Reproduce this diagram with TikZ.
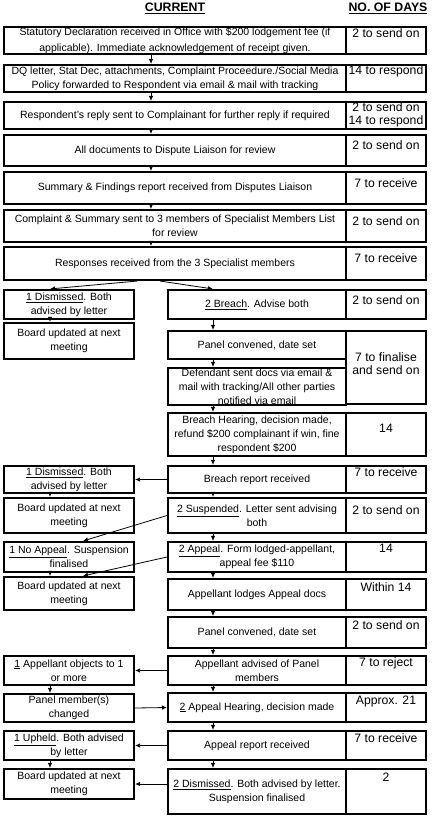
\documentclass[tikz,border=0pt]{standalone}
\usepackage{fontspec}
\setmainfont{Liberation Sans}
\usetikzlibrary{arrows.meta}
\newcommand\bodyfnt{\fontsize{10.5}{14}\selectfont}
\newcommand\widefnt{\fontsize{10.5}{16}\selectfont}
\newcommand\daysfnt{\fontsize{12.2}{12.5}\selectfont}
\newcommand\headfnt{\fontsize{12.3}{14}\selectfont\bfseries}
\begin{document}
\begin{tikzpicture}[x=1pt,y=-1pt,
  box/.style={draw, line width=2.1pt, inner sep=0pt, align=center, font=\bodyfnt},
  dbox/.style={draw, line width=2.1pt, inner sep=0pt, minimum width=80pt},
  dtext/.style={font=\daysfnt, align=center, inner sep=0pt},
  head/.style={font=\headfnt, inner sep=0pt},
  arr/.style={line width=0.8pt, -{Latex[length=5pt,width=4.5pt]}}]
\useasboundingbox (0,0) rectangle (434,820);
\fill[white] (0,0) rectangle (434,820);
% headers
\node[head] (hc) at (175,8) {\underline{CURRENT}};
\node[head] (hd) at (388,8) {\underline{NO. OF DAYS}};
% column x positions for vertical connectors
\coordinate (xm) at (151,0);
\coordinate (xr) at (213,0);
\coordinate (xl) at (50,0);
\coordinate (fl) at (137,0);
\coordinate (fr) at (160,0);
\coordinate (xs) at (83,0);
% main rows
\node[box, font=\widefnt, minimum width=342pt, minimum height=27pt] (r1) at (175,40.5) {Statutory Declaration received in Office with \$200 lodgement fee (if\\applicable). Immediate acknowledgement of receipt given.};
\node[box, minimum width=342pt, minimum height=27pt] (r2) at (175,78.5) {DQ letter, Stat Dec, attachments, Complaint Proceedure./Social Media\\Policy forwarded to Respondent via email \& mail with tracking};
\node[box, minimum width=342pt, minimum height=27pt] (r3) at (175,115.5) {Respondent's reply sent to Complainant for further reply if required};
\node[box, minimum width=342pt, minimum height=31pt] (r4) at (175,150.5) {All documents to Dispute Liaison for review};
\node[box, minimum width=342pt, minimum height=32pt] (r5) at (175,188) {Summary \& Findings report received from Disputes Liaison};
\node[box, minimum width=342pt, minimum height=32pt] (r6) at (175,226) {Complaint \& Summary sent to 3 members of Specialist Members List\\for review};
\node[box, minimum width=342pt, minimum height=33pt] (r7) at (175,263.5) {Responses received from the 3 Specialist members};
% days boxes for main rows
\node[dbox, minimum height=27pt] (d1) at (386,40.5) {};
\node[dbox, minimum height=27pt] (d2) at (386,78.5) {};
\node[dbox, minimum height=27pt] (d3) at (386,115.5) {};
\node[dbox, minimum height=31pt] (d4) at (386,150.5) {};
\node[dbox, minimum height=32pt] (d5) at (386,188) {};
\node[dbox, minimum height=32pt] (d6) at (386,226) {};
\node[dbox, minimum height=33pt] (d7) at (386,263.5) {};
% left column
\node[box, minimum width=130pt, minimum height=29pt] (l1) at (69,304.5) {\underline{1 Dismissed}. Both\\advised by letter};
\node[box, minimum width=130pt, minimum height=36pt] (l2) at (69,341) {Board updated at next\\meeting};
\node[box, minimum width=130pt, minimum height=27pt] (l3) at (69,479.5) {\underline{1 Dismissed}. Both\\advised by letter};
\node[box, minimum width=130pt, minimum height=35pt] (l4) at (69,515.5) {Board updated at next\\meeting};
\node[box, minimum width=130pt, minimum height=30pt] (l5) at (69,557) {\underline{1 No Appeal}. Suspension\\finalised};
\node[box, minimum width=130pt, minimum height=33pt] (l6) at (69,593.5) {Board updated at next\\meeting};
\node[box, minimum width=130pt, minimum height=29pt] (l7) at (69,670.5) {\underline{1} Appellant objects to 1\\or more};
\node[box, minimum width=130pt, minimum height=28pt] (l8) at (69,708) {Panel member(s)\\changed};
\node[box, minimum width=130pt, minimum height=29pt] (l9) at (69,745.5) {\underline{1 Upheld}. Both advised\\by letter};
\node[box, minimum width=130pt, minimum height=30pt] (l10) at (69,784) {Board updated at next\\meeting};
% right column
\node[box, minimum width=178pt, minimum height=29pt] (b1) at (257,304.5) {\underline{2 Breach}. Advise both};
\node[box, minimum width=178pt, minimum height=28pt] (b2) at (257,345) {Panel convened, date set};
\node[box, minimum width=178pt, minimum height=37pt] (b3) at (257,386.5) {Defendant sent docs via email \&\\mail with tracking/All other parties\\notified via email};
\node[box, minimum width=178pt, minimum height=43pt] (b4) at (257,434.5) {Breach Hearing, decision made,\\refund \$200 complainant if win, fine\\respondent \$200};
\node[box, minimum width=178pt, minimum height=27pt] (b5) at (257,479.5) {Breach report received};
\node[box, minimum width=178pt, minimum height=35pt] (b6) at (257,515.5) {\underline{2 Suspended}. Letter sent advising\\both};
\node[box, minimum width=178pt, minimum height=30pt] (b7) at (257,557) {\underline{2 Appeal}. Form lodged-appellant,\\appeal fee \$110};
\node[box, minimum width=178pt, minimum height=31pt] (b8) at (257,594.5) {Appellant lodges Appeal docs};
\node[box, minimum width=178pt, minimum height=31pt] (b9) at (257,632.5) {Panel convened, date set};
\node[box, minimum width=178pt, minimum height=29pt] (b10) at (257,670.5) {Appellant advised of Panel\\members};
\node[box, minimum width=178pt, minimum height=29pt] (b11) at (257,707.5) {\underline{2} Appeal Hearing, decision made};
\node[box, minimum width=178pt, minimum height=29pt] (b12) at (257,745.5) {Appeal report received};
\node[box, minimum width=178pt, minimum height=45pt] (b13) at (257,791.5) {\underline{2 Dismissed}. Both advised by letter.\\Suspension finalised};
% days boxes for right column
\node[dbox, minimum height=29pt] (e1) at (386,304.5) {};
\node[dbox, minimum height=73pt] (e2) at (386,367.5) {};
\node[dbox, minimum height=43pt] (e4) at (386,434.5) {};
\node[dbox, minimum height=27pt] (e5) at (386,479.5) {};
\node[dbox, minimum height=35pt] (e6) at (386,515.5) {};
\node[dbox, minimum height=30pt] (e7) at (386,557) {};
\node[dbox, minimum height=31pt] (e8) at (386,594.5) {};
\node[dbox, minimum height=31pt] (e9) at (386,632.5) {};
\node[dbox, minimum height=29pt] (e10) at (386,670.5) {};
\node[dbox, minimum height=29pt] (e11) at (386,707.5) {};
\node[dbox, minimum height=29pt] (e12) at (386,745.5) {};
\node[dbox, minimum height=45pt] (e13) at (386,791.5) {};
% days texts
\node[dtext] (t1) at (386,33) {2 to send on};
\node[dtext] (t2) at (386,71) {14 to respond};
\node[dtext] (t3) at (386,115) {2 to send on\\14 to respond};
\node[dtext] (t4) at (386,145) {2 to send on};
\node[dtext] (t5) at (386,183) {7 to receive};
\node[dtext] (t6) at (386,221) {2 to send on};
\node[dtext] (t7) at (386,258) {7 to receive};
\node[dtext] (u1) at (386,300) {2 to send on};
\node[dtext] (u2) at (386,363.5) {7 to finalise\\and send on};
\node[dtext] (u4) at (386,428) {14};
\node[dtext] (u5) at (386,472) {7 to receive};
\node[dtext] (u6) at (386,510) {2 to send on};
\node[dtext] (u7) at (386,548) {14};
\node[dtext] (u8) at (386,587) {Within 14};
\node[dtext] (u9) at (386,625) {2 to send on};
\node[dtext] (u10) at (386,663) {7 to reject};
\node[dtext] (u11) at (386,701) {Approx. 21};
\node[dtext] (u12) at (386,738) {7 to receive};
\node[dtext] (u13) at (386,777) {2};
% main column connectors
\draw[arr] (r1.south -| xm) -- (r2.north -| xm);
\draw[arr] (r2.south -| xm) -- (r3.north -| xm);
\draw[arr] (r3.south -| xm) -- (r4.north -| xm);
\draw[arr] (r4.south -| xm) -- (r5.north -| xm);
\draw[arr] (r5.south -| xm) -- (r6.north -| xm);
\draw[arr] (r6.south -| xm) -- (r7.north -| xm);
% fork
\draw[arr] (r7.south -| fl) -- (l1.north -| xl);
\draw[arr] (r7.south -| fr) -- (b1.north -| xr);
% left column connectors
\draw[arr] (l1.south -| xl) -- (l2.north -| xl);
\draw[arr] (l3.south -| xl) -- (l4.north -| xl);
\draw[arr] (l5.south -| xl) -- (l6.north -| xl);
\draw[arr] (l7.south -| xl) -- (l8.north -| xl);
\draw[arr] (l9.south -| xl) -- (l10.north -| xl);
% right column connectors
\draw[arr] (b1.south -| xr) -- (b2.north -| xr);
\draw[arr] (b2.south -| xr) -- (b3.north -| xr);
\draw[arr] (b3.south -| xr) -- (b4.north -| xr);
\draw[arr] (b4.south -| xr) -- (b5.north -| xr);
\draw[arr] (b5.south -| xr) -- (b6.north -| xr);
\draw[arr] (b6.south -| xr) -- (b7.north -| xr);
\draw[arr] (b7.south -| xr) -- (b8.north -| xr);
\draw[arr] (b8.south -| xr) -- (b9.north -| xr);
\draw[arr] (b9.south -| xr) -- (b10.north -| xr);
\draw[arr] (b10.south -| xr) -- (b11.north -| xr);
\draw[arr] (b11.south -| xr) -- (b12.north -| xr);
\draw[arr] (b12.south -| xr) -- (b13.north -| xr);
% cross connectors
\draw[arr] (b5.west) -- (l3.east);
\draw[arr] (b6.west) -- (l5.north -| xs);
\draw[arr] (b7.west) -- (l6.north -| xs);
\draw[arr] (b10.west) -- (l7.east);
\draw[arr] (l8.east) -- (b11.west);
\draw[arr] (b12.west) -- (l9.east);
\draw[arr] (l10.east -| b13.west) -- (l10.east);
\end{tikzpicture}
\end{document}
